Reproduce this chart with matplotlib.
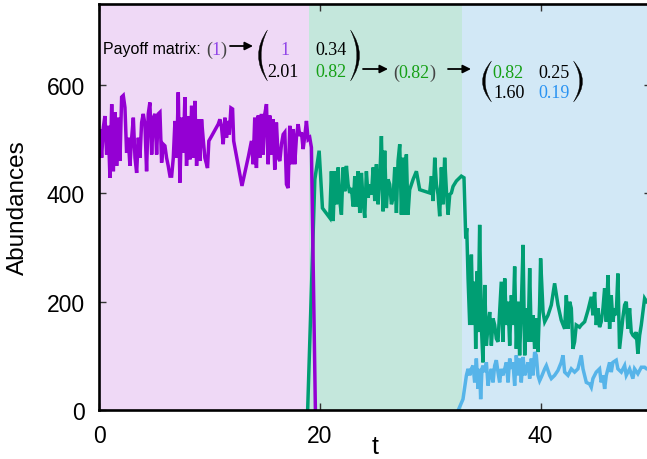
import matplotlib
matplotlib.use("Agg")
import matplotlib.pyplot as plt
from matplotlib.path import Path
from matplotlib.patches import PathPatch, FancyArrowPatch

# ---------------- data ----------------
phase_edges = [0.0, 19.0, 32.88, 50.0]
phase_colors = ["#efd9f6", "#c4e7dc", "#d2e8f6"]

purple_t = [0.00, 0.09, 0.24, 0.39, 0.54, 0.69, 0.84, 0.99, 1.15, 1.30, 1.45, 1.60, 1.75,
            1.90, 2.05, 2.20, 2.35, 2.50, 2.65, 2.80, 2.96, 3.11, 3.26, 3.41, 3.56, 3.71,
            3.86, 4.01, 4.16, 4.31, 4.46, 4.61, 4.77, 4.92, 5.07, 5.22, 5.37, 5.52, 5.67,
            5.82, 5.97, 6.12, 6.27, 6.43, 6.58, 6.73, 6.88, 7.03, 7.18, 7.33, 7.48, 7.63,
            7.78, 7.93, 8.08, 8.24, 8.39, 8.54, 8.69, 8.84, 8.99, 9.14, 9.29, 9.44, 9.59,
            9.83, 9.95, 10.20, 10.80, 10.95, 11.10, 11.25, 11.40, 11.55, 11.70, 11.80,
            11.95, 12.10, 12.20, 12.95, 13.55, 13.81, 13.96, 14.11, 14.26, 14.42, 14.57,
            14.72, 14.87, 15.02, 15.17, 15.32, 15.47, 15.62, 15.77, 15.92, 16.07, 16.23,
            16.38, 16.53, 16.68, 16.83, 16.98, 17.13, 17.28, 17.43, 17.58, 17.73, 17.89,
            18.04, 18.19, 18.34, 18.49, 18.64, 18.79, 18.94, 19.09, 19.24, 19.60]
purple_n = [500, 519, 466, 522, 543, 472, 525, 429, 565, 441, 550, 451, 540,
            460, 578, 581, 559, 475, 503, 451, 503, 540, 466, 438, 503, 466,
            531, 547, 528, 441, 547, 568, 472, 540, 547, 472, 547, 550, 457,
            491, 488, 466, 451, 432, 432, 466, 534, 466, 587, 420, 540, 475,
            578, 451, 543, 463, 562, 466, 571, 451, 537, 460, 537, 500, 466,
            447, 497, 506, 528, 537, 522, 491, 540, 503, 534, 509,
            558, 556, 497, 414, 470, 497, 454, 540, 447, 544, 466,
            547, 472, 547, 565, 454, 544, 472, 537, 444, 531, 466,
            460, 491, 509, 513, 417, 410, 525, 454, 519, 454, 506,
            528, 506, 513, 482, 506, 534, 500, 503, 485, 0]

green_t = [18.90, 19.55, 19.94, 20.24, 20.90, 21.05, 21.21, 21.36, 21.51, 21.66, 21.81,
           21.96, 22.11, 22.26, 22.41, 22.56, 22.71, 22.87, 23.02, 23.17, 23.32, 23.47,
           23.62, 23.77, 23.92, 24.07, 24.22, 24.38, 24.53, 24.68, 24.83, 24.98, 25.13,
           25.28, 25.43, 25.58, 25.73, 25.88, 26.03, 26.18, 26.33, 26.49, 26.64, 26.79,
           26.94, 27.09, 27.24, 27.39, 27.54, 27.69, 27.84, 27.99, 28.14, 28.45, 28.75,
           29.05, 29.95, 30.11, 30.26, 30.41, 30.56, 30.71, 30.86, 31.01, 31.16, 31.31,
           31.47, 31.62, 31.77, 31.92, 32.07, 32.37, 32.82, 33.06, 33.22, 33.31, 33.43,
           33.58, 33.73, 33.88, 34.03, 34.12, 34.24, 34.33, 34.48, 34.63, 34.78, 34.94,
           35.09, 35.24, 35.39, 35.54, 35.69, 35.84, 35.99, 36.14, 36.29, 36.44, 36.59,
           36.75, 36.90, 37.05, 37.20, 37.35, 37.50, 37.65, 37.80, 37.95, 38.10, 38.25,
           38.41, 38.56, 38.71, 38.86, 39.01, 39.16, 39.31, 39.46, 39.61, 39.76, 39.91,
           40.00, 40.22, 40.37, 40.67, 40.97, 41.27, 41.57, 41.87, 42.18, 42.33, 42.48,
           42.63, 42.78, 42.93, 43.08, 43.23, 43.53, 43.68, 43.99, 44.29, 44.59, 44.74,
           44.89, 45.04, 45.19, 45.34, 45.49, 45.65, 45.80, 45.95, 46.10, 46.25, 46.40,
           46.55, 46.70, 46.85, 47.00, 47.15, 47.31, 47.46, 47.61, 47.76, 47.91, 48.06,
           48.21, 48.36, 48.51, 48.66, 48.81, 48.97, 49.12, 49.42, 49.60, 50.00]
green_n = [0, 426, 479, 373, 355, 441, 349, 441, 380, 448, 386,
           361, 448, 404, 451, 417, 401, 410, 376, 432, 376, 441,
           364, 438, 386, 355, 441, 392, 417, 398, 448, 386, 454,
           380, 426, 506, 367, 479, 373, 426, 417, 380, 392, 448,
           364, 460, 491, 361, 466, 361, 472, 361, 407, 426, 441,
           407, 401, 432, 386, 466, 417, 398, 358, 448, 380, 466,
           404, 361, 398, 401, 413, 423, 432, 429, 317, 336, 243,
           157, 287, 157, 237, 113, 256, 144, 342, 157, 88, 231,
           119, 157, 181, 119, 169, 157, 132, 126, 181, 237, 126,
           243, 157, 200, 119, 212, 157, 265, 113, 200, 101, 188,
           305, 101, 188, 126, 262, 126, 175, 113, 169, 107, 194,
           280, 181, 163, 175, 194, 234, 194, 166, 150, 212, 150,
           200, 188, 113, 126, 157, 153, 157, 163, 184, 209, 175,
           218, 157, 188, 153, 163, 188, 225, 163, 249, 150, 212,
           163, 188, 175, 252, 113, 144, 172, 194, 200, 150, 188,
           144, 138, 135, 144, 104, 138, 157, 206, 200, 195]

blue_t = [32.55, 32.97, 33.28, 33.43, 33.58, 33.73, 33.88, 34.03, 34.18, 34.33, 34.48,
          34.57, 34.69, 34.78, 34.94, 35.09, 35.24, 35.39, 35.54, 35.69, 35.84, 35.99,
          36.14, 36.29, 36.44, 36.59, 36.75, 36.90, 37.05, 37.20, 37.35, 37.50, 37.65,
          37.80, 37.95, 38.10, 38.25, 38.41, 38.56, 38.71, 38.86, 39.01, 39.16, 39.31,
          39.46, 39.61, 39.76, 39.91, 40.07, 40.37, 40.52, 40.82, 40.97, 41.27, 41.57,
          41.87, 42.03, 42.18, 42.48, 42.78, 43.08, 43.38, 43.68, 43.84, 44.14, 44.44,
          44.59, 44.74, 45.04, 45.34, 45.49, 45.65, 45.80, 45.95, 46.25, 46.40, 46.55,
          46.85, 47.00, 47.31, 47.61, 47.76, 48.06, 48.36, 48.51, 48.81, 49.12, 49.42,
          49.60, 50.00]
blue_n = [0, 20, 64, 76, 64, 76, 82, 51, 95, 39, 76,
          20, 76, 82, 70, 88, 45, 64, 76, 51, 82, 92,
          70, 51, 76, 64, 76, 88, 51, 95, 76, 88, 45,
          101, 64, 95, 51, 98, 64, 76, 88, 58, 95, 64,
          107, 101, 64, 54, 61, 76, 82, 64, 58, 64, 73,
          88, 101, 70, 64, 76, 70, 76, 101, 76, 51, 48,
          42, 58, 70, 76, 51, 64, 39, 64, 88, 70, 88,
          92, 76, 70, 82, 64, 76, 58, 76, 67, 79, 79,
          76, 74]

x_ticks = [0, 20, 40]
y_ticks = [0, 200, 400, 600]

# ---------------- figure ----------------
W, H = 647, 460
plt.rcParams["font.family"] = ["Liberation Sans", "DejaVu Sans"]
fig = plt.figure(figsize=(W / 100, H / 100), dpi=100)
ax = fig.add_axes([99 / W, 49 / H, (651 - 99) / W, (455 - 49) / H])

for (a, b), c in zip(zip(phase_edges[:-1], phase_edges[1:]), phase_colors):
    ax.axvspan(a, b, color=c, lw=0, zorder=0)

lw = 2.5
ax.plot(green_t, green_n, color="#009e73", lw=lw, solid_joinstyle="miter", zorder=2)
ax.plot(blue_t, blue_n, color="#56b4e9", lw=lw, solid_joinstyle="miter", zorder=2.1)
ax.plot(purple_t, purple_n, color="#9400d3", lw=lw, solid_joinstyle="miter", zorder=2.2)

ax.set_xlim(0, 50)
ax.set_ylim(0, 750)
ax.set_xticks(x_ticks)
ax.set_yticks(y_ticks)
ax.tick_params(direction="in", length=5, width=1.0, color="#333333",
               top=True, right=True, labelsize=16.5, pad=10)
for s in ax.spines.values():
    s.set_linewidth(1.9)
    s.set_zorder(3)

ax.set_xlabel("t", fontsize=18)
ax.xaxis.set_label_coords((375 - 99) / 552, (411 - 447) / 406)
ax.xaxis.label.set_va("center")
ax.set_ylabel("Abundances", fontsize=17.5)
ax.yaxis.set_label_coords((18 - 99) / 552, 0.5)
ax.yaxis.label.set_va("center")

# ---------------- payoff matrix annotation ----------------
PURPLE_TXT = "#9146e8"
GREEN_TXT = "#16a016"
BLUE_TXT = "#2a93f2"
serif = ["Liberation Serif", "DejaVu Serif"]


def fp(x, y):
    return (x / W, 1 - y / H)


def label(x, y, s, color="black", size=13, family=serif, ha="center"):
    fig.text(*fp(x, y), s, color=color, fontsize=size, family=family,
             ha=ha, va="baseline")


def arrow(x0, x1, y):
    fig.add_artist(FancyArrowPatch(fp(x0, y), fp(x1, y), transform=fig.transFigure,
                                   arrowstyle="-|>", mutation_scale=12, lw=1.3,
                                   color="black", shrinkA=0, shrinkB=0))


def paren(xc, ytop, ybot, side, bulge=9.0, thick=2.6):
    ymid = 0.5 * (ytop + ybot)
    sgn = -1 if side == "left" else 1
    tip = xc - sgn * bulge / 2
    out_c = 2 * (xc + sgn * bulge / 2) - tip
    in_c = 2 * (xc + sgn * (bulge / 2 - thick)) - tip
    verts = [fp(tip, ytop), fp(out_c, ymid), fp(tip, ybot),
             fp(in_c, ymid), fp(tip, ytop), fp(tip, ytop)]
    codes = [Path.MOVETO, Path.CURVE3, Path.CURVE3,
             Path.CURVE3, Path.CURVE3, Path.CLOSEPOLY]
    fig.add_artist(PathPatch(Path(verts, codes), transform=fig.transFigure,
                             facecolor="black", edgecolor="black", lw=0.3))


label(103, 54, "Payoff matrix:", size=11.5, family=["Liberation Sans", "DejaVu Sans"], ha="left")
label(209.5, 55, "(", color="#444444")
label(216, 55, "1", color=PURPLE_TXT)
label(223, 55, ")", color="#444444")
arrow(230, 253, 47)

paren(263, 31, 82, "left")
label(285, 55, "1", color=PURPLE_TXT)
label(331, 55, "0.34")
label(283, 77, "2.01")
label(331, 77, "0.82", color=GREEN_TXT)
paren(355, 31, 82, "right")
arrow(363, 388, 70)

label(396, 78, "(", color="#444444")
label(414, 78, "0.82", color=GREEN_TXT)
label(432, 78, ")", color="#444444")
arrow(448, 471, 70)

paren(487, 62, 103, "left")
label(508, 78, "0.82", color=GREEN_TXT)
label(554, 78, "0.25")
label(509, 98, "1.60")
label(554, 98, "0.19", color=BLUE_TXT)
paren(578, 62, 103, "right")

fig.savefig("out.png", dpi=100)
